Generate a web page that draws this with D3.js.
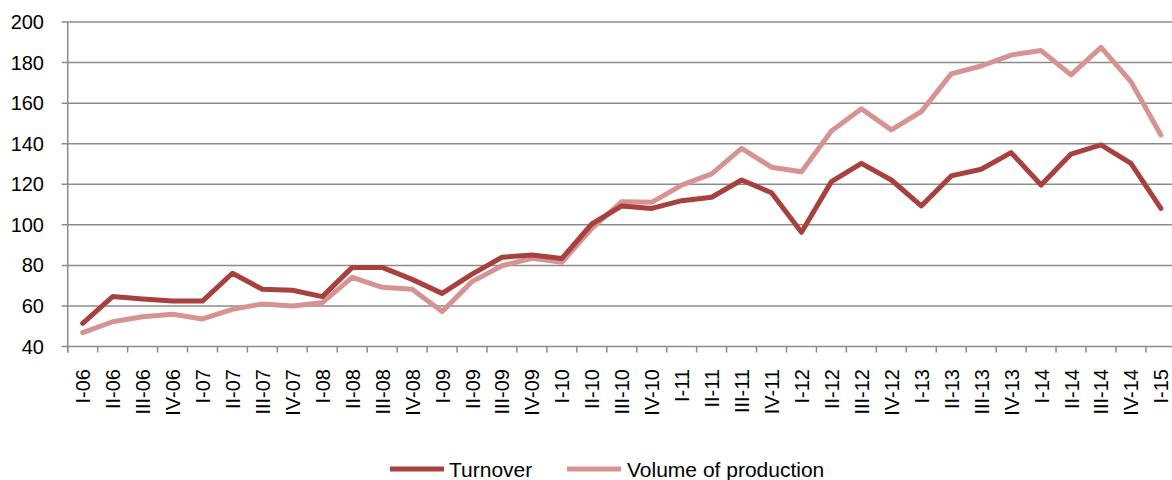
<!DOCTYPE html>
<html>
<head>
<meta charset="utf-8">
<script src="https://cdn.jsdelivr.net/npm/d3@7"></script>
<style>
html, body { margin: 0; padding: 0; background: #fff; }
svg { display: block; font-family: "Liberation Sans", Arial, sans-serif; }
</style>
</head>
<body>
<svg id="chart" width="1172" height="480"></svg>
<script>
const categories = ["I-06","II-06","III-06","IV-06","I-07","II-07","III-07","IV-07","I-08","II-08","III-08","IV-08","I-09","II-09","III-09","IV-09","I-10","II-10","III-10","IV-10","I-11","II-11","III-11","IV-11","I-12","II-12","III-12","IV-12","I-13","II-13","III-13","IV-13","I-14","II-14","III-14","IV-14","I-15"];
const turnover = [51.4,64.6,63.4,62.4,62.4,76.1,68.2,67.7,64.6,79.0,79.0,73.1,66.2,75.7,84.0,85.1,83.4,100.4,109.3,108.1,111.9,113.6,122.1,115.8,96.3,121.3,130.3,122.1,109.3,124.1,127.4,135.6,119.6,134.9,139.4,130.3,108.1];
const volume = [46.8,52.2,54.7,55.9,53.6,58.3,61.0,60.0,61.6,74.1,69.2,68.2,57.2,72.0,79.8,83.5,81.5,98.3,111.4,111.1,119.6,125.1,137.7,128.4,126.2,146.3,157.2,146.8,155.8,174.4,178.3,183.7,185.9,173.9,187.5,170.6,144.3];
const yTicks = [40,60,80,100,120,140,160,180,200];
const seriesNames = ["Turnover","Volume of production"];
const colors = ["#a8403e","#d69392"];

const svg = d3.select("#chart");
const plotLeft = 67.7, plotTop = 22, plotBottom = 346.5, step = 29.95;
const x = d3.scaleBand().domain(categories).range([plotLeft, plotLeft + step * categories.length]).padding(0);
const y = d3.scaleLinear().domain([40, 200]).range([plotBottom, plotTop]);
const gridColor = "#8b8b8b";

// gridlines
svg.append("g").selectAll("line").data(yTicks).join("line")
  .attr("x1", plotLeft - 6).attr("x2", 1172)
  .attr("y1", d => y(d)).attr("y2", d => y(d))
  .attr("stroke", gridColor).attr("stroke-width", 1.5);

// y axis line
svg.append("line").attr("x1", plotLeft).attr("x2", plotLeft).attr("y1", y(200)).attr("y2", y(40) + 6)
  .attr("stroke", gridColor).attr("stroke-width", 1.5);

// y labels
svg.append("g").selectAll("text").data(yTicks).join("text")
  .attr("x", 44).attr("y", d => y(d)).attr("text-anchor", "end").attr("dominant-baseline", "central")
  .attr("font-size", 20).attr("fill", "#000").text(d => d);

// x ticks at band boundaries
svg.append("g").selectAll("line").data(categories).join("line")
  .attr("x1", d => x(d)).attr("x2", d => x(d))
  .attr("y1", y(40)).attr("y2", y(40) + 6)
  .attr("stroke", gridColor).attr("stroke-width", 1.5);

// x labels
svg.append("g").selectAll("text").data(categories).join("text")
  .attr("transform", d => `translate(${x(d) + x.bandwidth() / 2 + 0.5},369) rotate(-90)`)
  .attr("text-anchor", "end").attr("dominant-baseline", "central")
  .attr("font-size", 20).attr("fill", "#000").text(d => d);

// lines
const line = d3.line().x((d, i) => x(categories[i]) + x.bandwidth() / 2).y(d => y(d));
[volume, turnover].forEach((s, k) => {
  const idx = k === 0 ? 1 : 0;
  svg.append("path").datum(s).attr("d", line)
    .attr("fill", "none").attr("stroke", colors[idx]).attr("stroke-width", 5)
    .attr("stroke-linejoin", "round").attr("stroke-linecap", "round");
});

// legend
const legend = [{x1: 390, x2: 444, tx: 449}, {x1: 567, x2: 621, tx: 627}];
legend.forEach((l, i) => {
  svg.append("line").attr("x1", l.x1).attr("x2", l.x2).attr("y1", 469).attr("y2", 469)
    .attr("stroke", colors[i]).attr("stroke-width", 5);
  svg.append("text").attr("x", l.tx).attr("y", 469).attr("dominant-baseline", "central")
    .attr("font-size", 21).attr("fill", "#000").text(seriesNames[i]);
});
</script>
</body>
</html>
